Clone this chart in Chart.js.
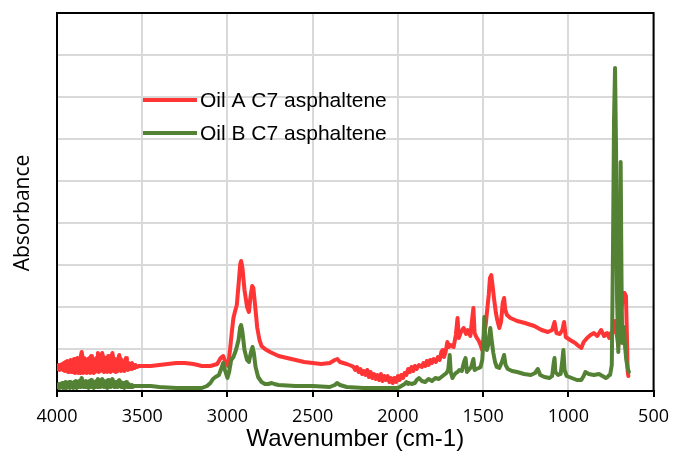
<!DOCTYPE html>
<html>
<head>
<meta charset="utf-8">
<script src="https://cdn.jsdelivr.net/npm/chart.js@4.4.0/dist/chart.umd.min.js"></script>
<style>
  html, body { margin: 0; padding: 0; background: #ffffff; }
  canvas { display: block; }
</style>
</head>
<body>
<canvas id="c" width="678" height="464"></canvas>
<script>
// Oil A C7 asphaltene: wavenumber (cm-1) and absorbance (arbitrary units)
const wavenumberA = [
  4000,3995,3990,3985,3980,3975,3970,3965,3960,3955,
  3950,3945,3940,3935,3930,3925,3920,3915,3910,3905,
  3900,3895,3890,3885,3880,3875,3870,3865,3860,3855,
  3850,3845,3840,3835,3830,3825,3820,3815,3810,3805,
  3800,3795,3790,3785,3780,3775,3770,3765,3760,3755,
  3750,3745,3740,3735,3730,3725,3720,3715,3710,3705,
  3700,3695,3690,3685,3680,3675,3670,3665,3660,3655,
  3650,3645,3640,3635,3630,3625,3620,3615,3610,3605,
  3600,3595,3590,3585,3580,3575,3570,3565,3560,3555,
  3550,3545,3540,3530,3520,3500,
  3450,3400,3350,3300,3250,3200,3150,3100,
  3060,3040,3025,3010,2996,
  2985,2975,2965,2955,2945,
  2935,2925,2920,2912,2900,
  2885,2874,2865,2855,2848,
  2838,2825,2812,2800,2780,
  2750,2700,2650,2600,2550,
  2500,2450,2400,2370,2355,
  2340,2300,2270,
  2260,2250,2240,2230,2220,2210,2200,2190,2180,2170,
  2160,2150,2140,2130,2120,2110,2100,2090,2080,2070,
  2060,2050,2040,2030,2020,2010,2000,1990,1980,1970,
  1960,1950,1940,1930,1920,1910,1900,1890,1876,1860,
  1850,1840,1830,1820,1810,1800,1790,1777,1765,1755,
  1745,1737,
  1730,1720,1710,1700,1690,
  1673,1660,1650,1643,1630,
  1614,1600,1590,1575,1565,
  1557,1550,1540,1525,1515,
  1505,1495,1485,1475,1467,
  1460,1452,1445,1435,1425,
  1417,1405,1395,1385,1377,
  1370,1360,1340,1300,1255,
  1200,1157,1120,1095,1081,
  1070,1050,1035,1025,1015,
  990,960,940,924,910,
  890,870,850,830,808,
  790,773,760,750,740,
  726,707,693,684,678,
  670,662,657,652,648
];
const absorbanceA = [
  24,22,26,21,26,22,27,21,28,20,
  29,21,30,19,29,20,31,19,30,19,
  32,18,31,19,33,18,32,18,35,39,
  34,18,33,19,31,18,32,19,33,18,
  35,19,32,18,31,19,33,20,38,19,
  33,20,35,38,34,19,32,20,33,19,
  35,20,32,19,34,38,33,20,32,19,
  31,20,33,36,32,20,30,21,29,20,
  31,33,30,21,28,22,27,22,28,23,
  26,23,26,24,25,25,
  25,26,27,28,28,27,25,25,
  27,33,35,28,25,
  41,58,73,80,86,
  106,127,130,123,101,
  84,79,94,105,103,
  86,63,51,45,42,
  39,35,33,31,29,
  28,27,28,31,32,
  29,27,25,
  24,21,24,19,22,17,20,16,21,14,
  19,13,17,12,16,11,17,10,15,11,
  15,9,13,8,13,9,15,11,16,13,
  18,16,22,19,24,20,25,22,26,24,
  28,25,30,26,31,28,32,29,34,31,
  39,41,
  34,39,49,44,46,
  44,56,73,53,59,
  63,57,61,55,71,
  83,58,54,50,46,
  41,55,66,83,96,
  113,116,106,91,78,
  71,63,69,88,93,
  81,76,73,70,68,
  65,61,59,61,69,
  58,57,61,69,54,
  51,48,45,43,49,
  53,56,58,55,61,
  55,58,53,58,58,
  70,45,80,88,98,
  98,95,60,20,15
];

// Oil B C7 asphaltene
const wavenumberB = [
  4000,3995,3990,3985,3980,3975,3970,3965,3960,3955,
  3950,3945,3940,3935,3930,3925,3920,3915,3910,3905,
  3900,3895,3890,3885,3880,3875,3870,3865,3860,3855,
  3850,3845,3840,3835,3830,3825,3820,3815,3810,3805,
  3800,3795,3790,3785,3780,3775,3770,3765,3760,3755,
  3750,3745,3740,3735,3730,3725,3720,3715,3710,3705,
  3700,3695,3690,3685,3680,3675,3670,3665,3660,3655,
  3650,3645,3640,3635,3630,3625,3620,3615,3610,3605,
  3600,3595,3590,3585,3580,3575,3570,3565,3560,3555,
  3550,3545,3540,3530,3520,3500,
  3450,3400,3300,3200,3150,3120,3100,3085,3070,3050,3035,3025,3015,3000,2990,2978,2965,2950,2935,2925,2920,2912,2900,2885,2874,2862,2853,2845,2835,2820,2800,2780,2760,2740,2725,2700,2600,2500,2400,2370,2357,2340,2300,2200,2100,2000,1980,1960,1950,1940,1934,1920,1900,1890,1876,1860,1840,1820,1800,1780,1760,1745,1730,1715,1705,1696,1690,1680,1670,1660,1650,1640,1625,1612,1603,1595,1585,1570,1557,1550,1540,1525,1515,1505,1498,1493,1487,1478,1470,1463,1458,1450,1440,1430,1420,1405,1390,1377,1368,1355,1330,1300,1260,1220,1195,1179,1165,1140,1110,1095,1085,1081,1076,1060,1045,1035,1029,1022,1010,980,950,924,910,900,880,850,820,800,780,770,760,755,745,738,732,726,720,714,707,700,693,688,684,678,674,668,660,652,645
];
const absorbanceB = [
  6,4,7,3,7,4,8,3,8,3,
  9,3,8,4,9,3,9,4,8,3,
  9,4,10,3,9,4,10,4,11,13,
  10,4,9,4,10,4,9,3,10,4,
  11,4,9,3,9,4,10,4,12,4,
  10,4,11,12,10,4,9,4,10,3,
  11,4,9,4,10,12,10,4,9,4,
  9,4,10,11,9,4,8,4,8,3,
  8,9,7,4,7,4,6,4,6,4,
  5,5,5,5,5,5,
  5,4,3,3,3,5,8,12,14,16,23,28,21,13,19,31,34,41,51,64,66,59,41,31,29,39,44,38,24,14,9,7,7,8,7,6,5,5,4,6,8,6,4,3,3,3,5,7,9,7,8,7,8,11,13,10,9,12,10,13,12,14,16,18,21,36,19,13,16,18,19,21,20,29,33,19,21,24,32,21,22,23,24,31,51,74,51,41,46,56,63,51,38,29,24,23,29,36,26,22,20,19,17,16,18,22,16,14,13,15,29,33,19,16,17,31,41,21,15,13,11,11,15,19,17,16,17,15,13,14,16,16,26,141,271,323,241,91,39,91,229,111,48,56,64,46,31,23,19
];

const seriesLabels = ['Oil A C7 asphaltene', 'Oil B C7 asphaltene'];
const seriesColors = ['#FF3535', '#548235'];
const xTitle = 'Wavenumber (cm-1)';
const yTitle = 'Absorbance';

const toPoints = (xs, ys) => xs.map((x, i) => ({ x: x, y: ys[i] }));

const overlay = {
  id: 'overlay',
  beforeDatasetsDraw(chart) {
    const { ctx, chartArea: a } = chart;
    ctx.save();
    ctx.strokeStyle = '#000';
    ctx.lineWidth = 2;
    ctx.beginPath();
    ctx.moveTo(a.left, a.top);
    ctx.lineTo(a.right, a.top);
    ctx.lineTo(a.right, a.bottom);
    ctx.stroke();
    ctx.restore();
  },
  afterDraw(chart) {
    const ctx = chart.ctx;
    ctx.save();
    const ys = [100, 133];
    chart.data.datasets.forEach((ds, i) => {
      ctx.strokeStyle = ds.borderColor;
      ctx.lineWidth = 4;
      ctx.beginPath();
      ctx.moveTo(143, ys[i]);
      ctx.lineTo(197, ys[i]);
      ctx.stroke();
      ctx.fillStyle = '#000';
      ctx.font = '21px "Liberation Sans", Arial, sans-serif';
      ctx.textAlign = 'left';
      ctx.textBaseline = 'middle';
      ctx.fillText(ds.label, 200, ys[i] + 1);
    });
    ctx.translate(23, 213);
    ctx.rotate(-Math.PI / 2);
    ctx.font = '21px "Open Sans", sans-serif';
    ctx.textAlign = 'center';
    ctx.textBaseline = 'middle';
    ctx.fillStyle = '#000';
    ctx.fillText(chart.options.scales.y.title.text, 0, 0);
    ctx.restore();
  }
};

new Chart(document.getElementById('c'), {
  type: 'line',
  data: {
    datasets: [
      { label: seriesLabels[0], data: toPoints(wavenumberA, absorbanceA), borderColor: seriesColors[0], order: 2 },
      { label: seriesLabels[1], data: toPoints(wavenumberB, absorbanceB), borderColor: seriesColors[1], order: 1 }
    ]
  },
  options: {
    responsive: false,
    animation: false,
    devicePixelRatio: 1,
    layout: { padding: { top: 13, right: 18, left: 0, bottom: 0 } },
    elements: {
      point: { radius: 0 },
      line: { borderWidth: 4, tension: 0, borderJoinStyle: 'round', borderCapStyle: 'round', fill: false }
    },
    plugins: { legend: { display: false }, tooltip: { enabled: false } },
    scales: {
      x: {
        type: 'linear',
        reverse: true,
        min: 500,
        max: 4000,
        ticks: { stepSize: 500, color: '#000', font: { family: '"Open Sans"', size: 18 }, padding: 9, maxRotation: 0,
                 callback: (v) => String(v) },
        grid: { color: '#d9d9d9', lineWidth: 2, tickColor: '#000', tickLength: 6, tickWidth: 2 },
        border: { display: true, color: '#000', width: 2 },
        title: { display: true, text: xTitle, color: '#000', font: { family: '"Liberation Sans"', size: 24 }, padding: { top: 0, bottom: 10 } },
        afterFit(scale) { scale.height = 73; }
      },
      y: {
        min: 0,
        max: 378,
        ticks: { stepSize: 42, display: false },
        grid: { color: '#d9d9d9', lineWidth: 2, drawTicks: false },
        border: { display: true, color: '#000', width: 2 },
        title: { display: false, text: yTitle },
        afterFit(scale) { scale.width = 57; }
      }
    }
  },
  plugins: [overlay]
});
</script>
</body>
</html>
